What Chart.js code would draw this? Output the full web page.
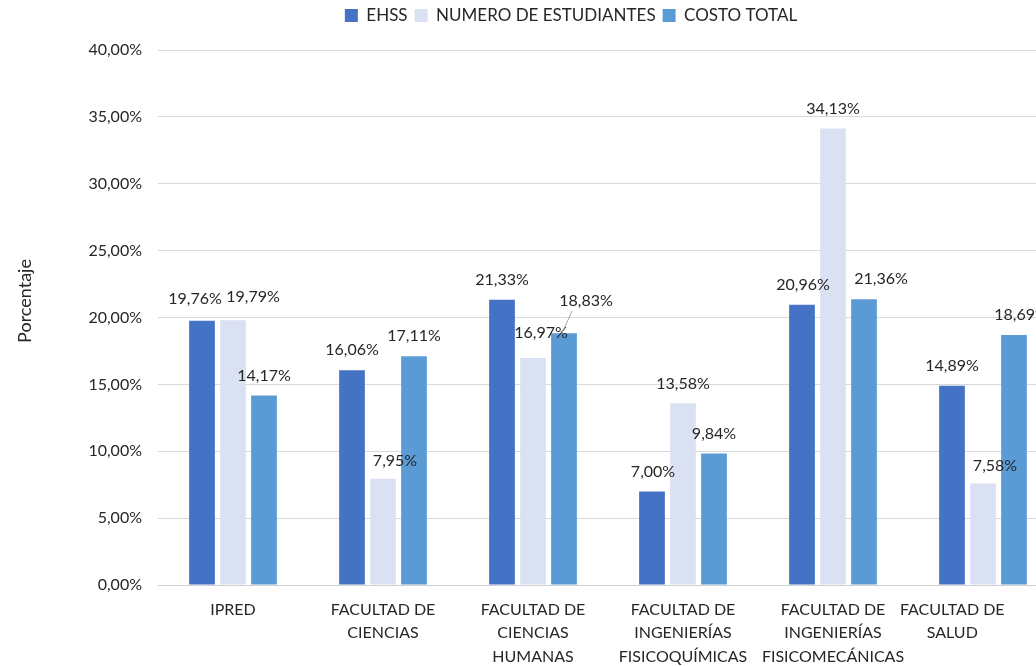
<!DOCTYPE html>
<html>
<head>
<meta charset="utf-8">
<script src="https://cdn.jsdelivr.net/npm/chart.js@4/dist/chart.umd.min.js"></script>
<style>
  html, body { margin: 0; padding: 0; background: #fff; overflow: hidden; }
  #wrap { width: 1142px; height: 666px; position: relative; }
</style>
</head>
<body>
<div id="wrap"><canvas id="myChart"></canvas></div>
<script>
// datos
const categorias = [
    'IPRED',
    ['FACULTAD DE', 'CIENCIAS'],
    ['FACULTAD DE', 'CIENCIAS', 'HUMANAS'],
    ['FACULTAD DE', 'INGENIERÍAS', 'FISICOQUÍMICAS'],
    ['FACULTAD DE', 'INGENIERÍAS', 'FISICOMECÁNICAS'],
    ['FACULTAD DE', 'SALUD']
];
const ehss = [19.76, 16.06, 21.33, 7.00, 20.96, 14.89];
const numeroEstudiantes = [19.79, 7.95, 16.97, 13.58, 34.13, 7.58];
const costoTotal = [14.17, 17.11, 18.83, 9.84, 21.36, 18.69];
const yTicks = [0, 5, 10, 15, 20, 25, 30, 35, 40];

const fuente = 'Lato, "Liberation Sans", sans-serif';
const fmt = (v) => v.toFixed(2).replace('.', ',') + '%';

// desplazamientos de las etiquetas (como en el original)
const etiquetaDx = [[-7, 0, 0, 1, 1, 0], [20, 12, 8, 0, 0, 12], [0, 0, 22, 0, 17, 7]];
const etiquetaDy = [[22, 20, 20, 20, 20, 20], [23, 18, 25, 20, 20, 18], [20, 20, 32, 20, 20, 20]];

const etiquetas = {
    id: 'etiquetas',
    afterInit(chart) {
        // mas espacio bajo la leyenda
        const fitOrig = chart.legend.fit;
        chart.legend.fit = function () {
            fitOrig.call(this);
            this.height += 16;
        };
    },
    afterDatasetsDraw(chart) {
        const ctx = chart.ctx;
        ctx.save();
        ctx.font = '16px ' + fuente;
        ctx.fillStyle = '#262626';
        ctx.textAlign = 'center';
        ctx.textBaseline = 'middle';
        chart.data.datasets.forEach((ds, i) => {
            const meta = chart.getDatasetMeta(i);
            meta.data.forEach((bar, j) => {
                const x = bar.x + etiquetaDx[i][j];
                const y = bar.y - etiquetaDy[i][j];
                ctx.fillText(fmt(ds.data[j]), x, y);
                if (i === 2 && j === 2) {
                    // linea guia
                    ctx.strokeStyle = '#a6a6a6';
                    ctx.lineWidth = 1;
                    ctx.beginPath();
                    ctx.moveTo(bar.x - 2, bar.y);
                    ctx.lineTo(x - 14, y + 10);
                    ctx.stroke();
                }
            });
        });
        // titulo del eje
        ctx.translate(25, 301);
        ctx.rotate(-Math.PI / 2);
        ctx.font = '18px ' + fuente;
        ctx.fillText('Porcentaje', 0, 0);
        ctx.restore();
    }
};

var ctx = document.getElementById('myChart').getContext('2d');
let myChart = new Chart(ctx, {
    type: 'bar',
    data: {
        labels: categorias,
        datasets: [
            { label: 'EHSS', data: ehss, backgroundColor: '#4472C4' },
            { label: 'NUMERO DE ESTUDIANTES', data: numeroEstudiantes, backgroundColor: '#DAE1F2' },
            { label: 'COSTO TOTAL', data: costoTotal, backgroundColor: '#5B9BD5' }
        ]
    },
    options: {
        responsive: true,
        maintainAspectRatio: false,
        animation: false,
        datasets: { bar: { categoryPercentage: 0.62, barPercentage: 0.83 } },
        layout: { padding: { top: 0, right: 84, left: 84, bottom: 0 } },
        plugins: {
            legend: {
                position: 'top',
                labels: {
                    boxWidth: 13,
                    boxHeight: 13,
                    padding: 7,
                    color: '#262626',
                    font: { family: fuente, size: 17 }
                }
            },
            tooltip: { enabled: false }
        },
        scales: {
            y: {
                min: 0,
                max: 40,
                afterFit: (s) => { s.width = 74; },
                afterBuildTicks: (s) => { s.ticks = yTicks.map(v => ({ value: v })); },
                grid: { color: '#d9d9d9', drawTicks: false },
                border: { display: false },
                ticks: {
                    padding: 16,
                    color: '#262626',
                    font: { family: fuente, size: 16 },
                    callback: (v) => fmt(v)
                }
            },
            x: {
                afterFit: (s) => { s.height = 81; },
                grid: { display: false, drawTicks: false },
                border: { color: '#d0d0d0' },
                ticks: {
                    padding: 13,
                    maxRotation: 0,
                    autoSkip: false,
                    color: '#262626',
                    font: { family: fuente, size: 16, lineHeight: 1.47 },
                    // la ultima etiqueta se corre a la izquierda para que quepa
                    callback: (v, i) => {
                        const l = categorias[i];
                        if (i !== categorias.length - 1) return l;
                        return l.map(t => t + '\u00a0'.repeat(15));
                    }
                }
            }
        }
    },
    plugins: [etiquetas]
});
</script>
</body>
</html>
